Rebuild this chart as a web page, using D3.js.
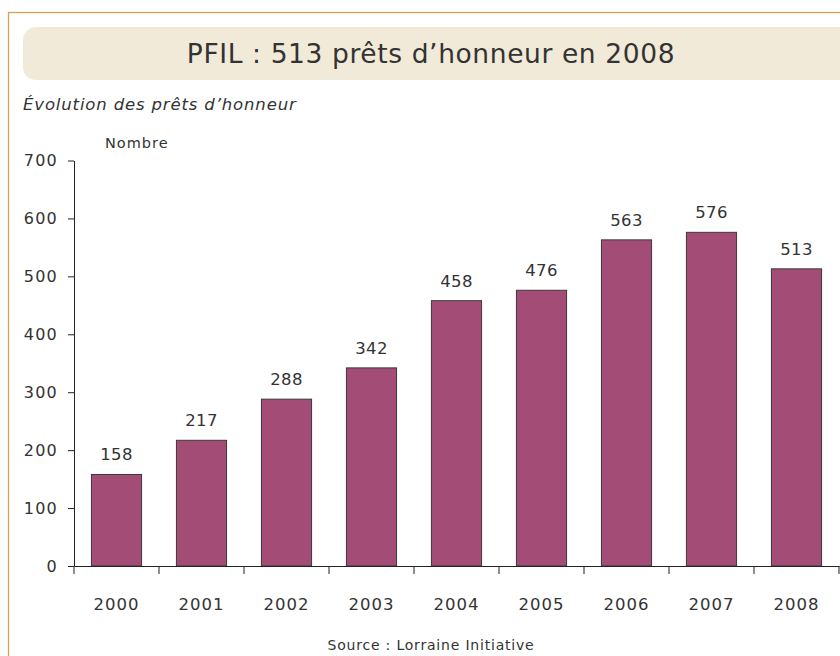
<!DOCTYPE html>
<html><head><meta charset="utf-8">
<script src="https://cdn.jsdelivr.net/npm/d3@7"></script>
<style>body{margin:0;background:#fff;}svg{display:block;}</style>
</head><body>
<svg id="c" width="840" height="656"></svg>
<script>
const years = ["2000","2001","2002","2003","2004","2005","2006","2007","2008"];
const values = [158,217,288,342,458,476,563,576,513];
const yTicks = [0,100,200,300,400,500,600,700];
const titleText = "PFIL : 513 prêts d’honneur en 2008";
const subtitleText = "Évolution des prêts d’honneur";
const unitText = "Nombre";
const sourceText = "Source : Lorraine Initiative";

const svg = d3.select("#c");
const font = "'DejaVu Sans', sans-serif";
const ink = "#333";

// outer frame
svg.append("rect").attr("x",8.5).attr("y",12.5).attr("width",900).attr("height",900)
  .attr("fill","none").attr("stroke","#d9a24c").attr("stroke-width",1.3);
// title box
svg.append("rect").attr("x",23).attr("y",27).attr("width",830).attr("height",53).attr("rx",13)
  .attr("fill","#f2ead8");
svg.append("text").attr("x",431).attr("y",63).attr("text-anchor","middle")
  .attr("font-family",font).attr("font-size",26.5).attr("letter-spacing",0.6).attr("fill",ink).text(titleText);
svg.append("text").attr("x",23).attr("y",110).attr("font-family",font).attr("font-style","italic")
  .attr("font-size",16.5).attr("letter-spacing",0.85).attr("fill",ink).text(subtitleText);
svg.append("text").attr("x",105).attr("y",148).attr("font-family",font)
  .attr("font-size",14.5).attr("letter-spacing",1).attr("fill",ink).text(unitText);

const x = d3.scaleBand().domain(years).range([74,839]).paddingInner(0.41).paddingOuter(0.205);
const y = d3.scaleLinear().domain([0,700]).range([566,160.5]);

// bars
svg.append("g").selectAll("rect").data(values).join("rect")
  .attr("x",(d,i)=>x(years[i])).attr("y",d=>y(d)).attr("width",x.bandwidth())
  .attr("height",d=>y(0)-y(d)).attr("fill","#a34c76").attr("stroke","#3a3a3a").attr("stroke-width",1);

// value labels
svg.append("g").selectAll("text").data(values).join("text")
  .attr("x",(d,i)=>x(years[i])+x.bandwidth()/2).attr("y",d=>y(d)-14)
  .attr("text-anchor","middle").attr("font-family",font).attr("font-size",16.5)
  .attr("letter-spacing",0.4).attr("fill",ink).text(d=>d);

// y axis
const yAxis = svg.append("g").attr("transform","translate(74,0)")
  .call(d3.axisLeft(y).tickValues(yTicks).tickSize(6).tickPadding(10).tickSizeOuter(0));
yAxis.select(".domain").attr("stroke","#222");
yAxis.selectAll(".tick line").attr("stroke","#222");
yAxis.selectAll(".tick text").attr("font-family",font).attr("font-size",16)
  .attr("letter-spacing",1.2).attr("fill",ink);

// x axis
const xAxis = svg.append("g").attr("transform","translate(0,566)")
  .call(d3.axisBottom(x).tickSize(0).tickPadding(0).tickSizeOuter(0));
xAxis.select(".domain").attr("stroke","#222");
xAxis.selectAll(".tick text").attr("font-family",font).attr("font-size",16.5)
  .attr("letter-spacing",1).attr("fill",ink).attr("dy",0).attr("y",44);
const half = x.step()*x.paddingInner()/2;
const bounds = years.map(yr=>x(yr)-half).concat([x(years[years.length-1])+x.bandwidth()+half]);
xAxis.append("g").selectAll("line").data(bounds).join("line")
  .attr("x1",d=>d).attr("x2",d=>d).attr("y1",0).attr("y2",8).attr("stroke","#222");

svg.append("text").attr("x",431).attr("y",650).attr("text-anchor","middle").attr("font-family",font)
  .attr("font-size",14).attr("letter-spacing",0.8).attr("fill",ink).text(sourceText);
</script>
</body></html>
